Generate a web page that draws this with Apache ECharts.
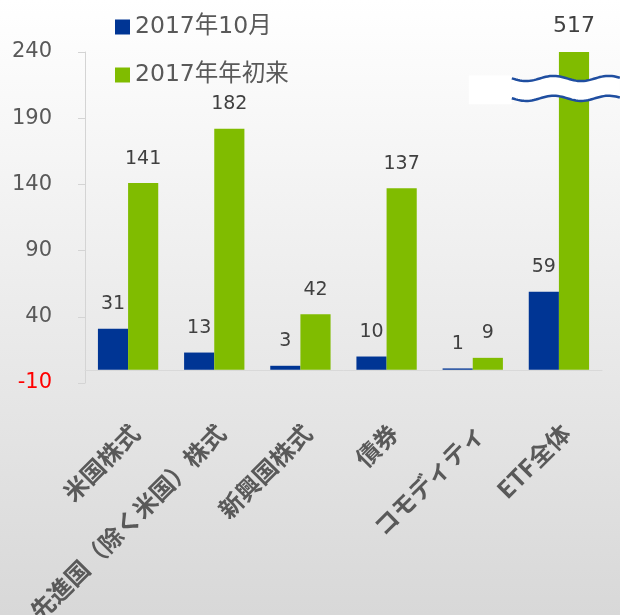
<!DOCTYPE html>
<html>
<head>
<meta charset="utf-8">
<script src="https://cdn.jsdelivr.net/npm/echarts@6/dist/echarts.min.js"></script>
<style>
  html, body { margin: 0; padding: 0; }
  #chart { width: 620px; height: 615px; }
</style>
</head>
<body>
<div id="chart"></div>
<script>
const categories = ['米国株式', '先進国（除く米国）株式', '新興国株式', '債券', 'コモディティ', 'ETF全体'];
const octValues = [31, 13, 3, 10, 1, 59];
const ytdValues = [141, 182, 42, 137, 9, 517];
const seriesNames = ['2017年10月', '2017年年初来'];

const yMin = -10, yMax = 240, yStep = 50;
// band of the axis break drawn over the clipped bar
const breakLow = 205, breakHigh = 220;

const numFont = "'DejaVu Sans', 'Noto Sans CJK JP', sans-serif";

const chart = echarts.init(document.getElementById('chart'));

const labelStyle = {
  show: true,
  position: 'top',
  distance: 15,
  color: '#404040',
  fontSize: 19,
  fontFamily: numFont
};

const option = {
  animation: false,
  backgroundColor: new echarts.graphic.LinearGradient(0, 0, 0, 1, [
    { offset: 0, color: '#ffffff' },
    { offset: 1, color: '#d8d8d8' }
  ]),
  legend: {
    orient: 'vertical',
    left: 110,
    top: 10,
    itemWidth: 15,
    itemHeight: 15,
    itemGap: 24,
    icon: 'rect',
    textStyle: { color: '#595959', fontSize: 23.5, fontFamily: numFont, lineHeight: 24 }
  },
  grid: { left: 85, right: 18, top: 52, bottom: 232, outerBoundsMode: 'none' },
  xAxis: {
    type: 'category',
    data: categories,
    axisLine: { lineStyle: { color: '#d9d9d9' } },
    axisTick: { length: 12, lineStyle: { color: '#d9d9d9' } },
    axisLabel: {
      rotate: 45,
      margin: 53,
      padding: [0, -10, 0, 0],
      interval: 0,
      color: '#595959',
      fontSize: 24,
      fontWeight: 'bold',
      fontFamily: "'Noto Sans CJK JP', sans-serif"
    }
  },
  yAxis: {
    type: 'value',
    min: yMin,
    max: yMax,
    interval: yStep,
    splitLine: { show: false },
    axisLine: { show: true, lineStyle: { color: '#d4d4d4' } },
    axisTick: { show: true, length: 7, lineStyle: { color: '#d4d4d4' } },
    axisLabel: {
      margin: 33,
      fontSize: 21,
      fontFamily: numFont,
      color: function (v) { return v < 0 ? '#ff0000' : '#595959'; }
    }
  },
  series: [
    {
      name: seriesNames[0],
      type: 'bar',
      barGap: '0%',
      barCategoryGap: '30%',
      itemStyle: { color: '#003594' },
      label: labelStyle,
      data: octValues
    },
    {
      name: seriesNames[1],
      type: 'bar',
      itemStyle: { color: '#80bc00' },
      label: Object.assign({}, labelStyle, {
        formatter: function (p) { return String(ytdValues[p.dataIndex]); }
      }),
      data: ytdValues.map(function (v) {
        if (v <= yMax) return v;
        return { value: yMax, label: { fontSize: 22 } };
      })
    }
  ]
};

chart.setOption(option);

// axis break decoration over the clipped bar
(function () {
  const breakIdx = ytdValues.findIndex(function (v) { return v > yMax; });
  if (breakIdx < 0) return;
  const cx = chart.convertToPixel({ xAxisIndex: 0 }, categories[breakIdx]);
  const band = chart.convertToPixel({ xAxisIndex: 0 }, categories[1]) -
               chart.convertToPixel({ xAxisIndex: 0 }, categories[0]);
  const yTop = chart.convertToPixel({ yAxisIndex: 0 }, breakHigh);
  const yBot = chart.convertToPixel({ yAxisIndex: 0 }, breakLow);
  const x0 = cx - band / 2 - 4;
  const x1 = chart.getWidth();
  const period = 55, amp = 2.6;
  function wave(y0) {
    const pts = [];
    for (let x = x0; x <= x1; x += 2) {
      pts.push([x, y0 + amp * Math.sin(2 * Math.PI * (x - x0 - 0.5) / period)]);
    }
    return pts;
  }
  const upper = wave(yTop);
  const lower = wave(yBot);
  chart.setOption({
    graphic: [
      {
        type: 'rect',
        shape: { x: x0 - 43, y: yTop - 3, width: 43, height: yBot - yTop + 9 },
        style: { fill: '#ffffff' },
        z: 100
      },
      {
        type: 'polygon',
        shape: { points: upper.concat(lower.slice().reverse()) },
        style: { fill: '#ffffff' },
        z: 100
      },
      {
        type: 'polyline',
        shape: { points: upper },
        style: { stroke: '#1f4ea0', lineWidth: 2.5, fill: null },
        z: 101
      },
      {
        type: 'polyline',
        shape: { points: lower },
        style: { stroke: '#1f4ea0', lineWidth: 2.5, fill: null },
        z: 101
      }
    ]
  });
})();
</script>
</body>
</html>
